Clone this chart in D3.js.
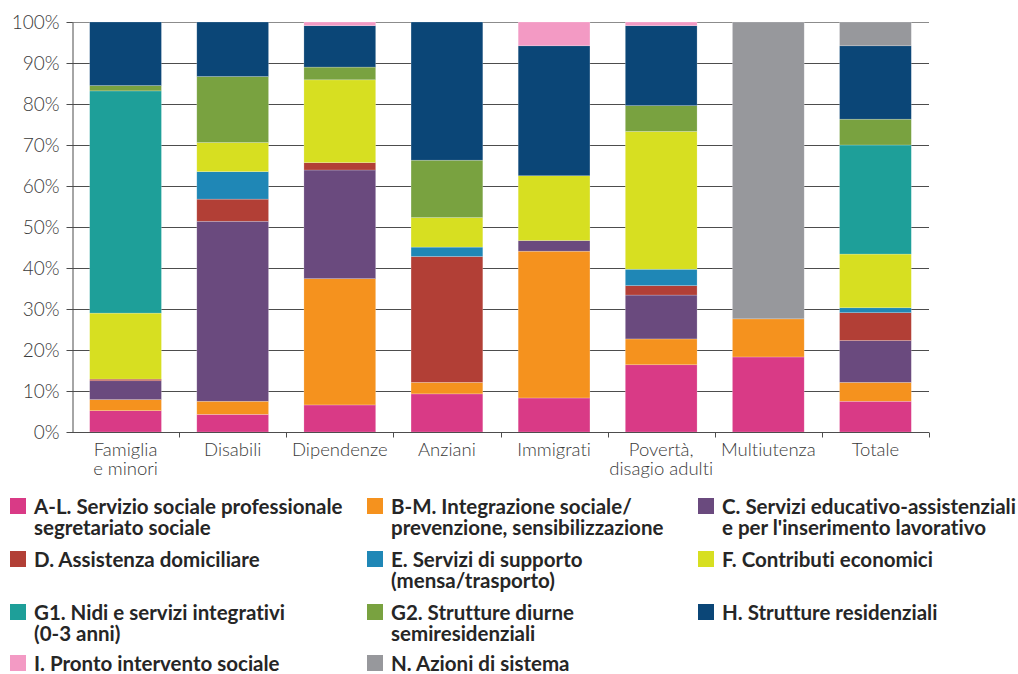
<!DOCTYPE html>
<html>
<head>
<meta charset="utf-8">
<script src="https://cdn.jsdelivr.net/npm/d3@7"></script>
<style>
  html, body { margin: 0; padding: 0; background: #fff; }
  svg { display: block; }
  text { font-variant-ligatures: none; font-feature-settings: "liga" 0; }
  .axis-label { font-family: Lato, "Open Sans", sans-serif; font-weight: 300; fill: #3a3a3a; }
  .legend-label { font-family: Lato, "Open Sans", sans-serif; font-weight: 700; fill: #262626; }
</style>
</head>
<body>
<svg id="chart" width="1018" height="674"></svg>
<script>
// Target user groups (x categories); multi-line labels split on "\n"
const categories = [
  "Famiglia\ne minori", "Disabili", "Dipendenze", "Anziani",
  "Immigrati", "Povertà,\ndisagio adulti", "Multiutenza", "Totale"
];

// Share of spending (%) per service area, one value per category
const serviceAL = [5.2, 4.3, 6.6, 9.3, 8.3, 16.4, 18.3, 7.5];
const serviceBM = [2.7, 3.2, 30.8, 2.8, 35.8, 6.3, 9.3, 4.6];
const serviceC  = [4.6, 43.9, 26.5, 0, 2.6, 10.7, 0, 10.2];
const serviceD  = [0.4, 5.4, 1.8, 30.7, 0, 2.3, 0, 6.8];
const serviceE  = [0, 6.7, 0, 2.3, 0, 4.0, 0, 1.2];
const serviceF  = [16.1, 7.1, 20.2, 7.2, 15.8, 33.6, 0, 13.1];
const serviceG1 = [54.2, 0, 0, 0, 0, 0, 0, 26.6];
const serviceG2 = [1.3, 16.1, 3.1, 14.0, 0, 6.3, 0, 6.3];
const serviceH  = [15.5, 13.3, 10.1, 33.7, 31.7, 19.5, 0, 17.9];
const serviceI  = [0, 0, 0.9, 0, 5.8, 0.9, 0, 0];
const serviceN  = [0, 0, 0, 0, 0, 0, 72.4, 5.8];

// Legend texts (lines) in stacking order
const seriesLabels = [
  ["A-L. Servizio sociale professionale", "segretariato sociale"],
  ["B-M. Integrazione sociale/", "prevenzione, sensibilizzazione"],
  ["C. Servizi educativo-assistenziali", "e per l'inserimento lavorativo"],
  ["D. Assistenza domiciliare"],
  ["E. Servizi di supporto", "(mensa/trasporto)"],
  ["F. Contributi economici"],
  ["G1. Nidi e servizi integrativi", "(0-3 anni)"],
  ["G2. Strutture diurne", "semiresidenziali"],
  ["H. Strutture residenziali"],
  ["I. Pronto intervento sociale"],
  ["N. Azioni di sistema"]
];

const seriesColors = [
  "#d93a86", "#f5921e", "#6a4a7e", "#b23f36", "#1f87b6", "#d7df21",
  "#1e9f99", "#79a240", "#0b4677", "#f39ac4", "#97989c"
];

const seriesValues = [
  serviceAL, serviceBM, serviceC, serviceD, serviceE, serviceF,
  serviceG1, serviceG2, serviceH, serviceI, serviceN
];
const yTicks = [0, 10, 20, 30, 40, 50, 60, 70, 80, 90, 100];

// Build table rows for d3.stack
const keys = seriesLabels.map((d, i) => "s" + i);
const rows = categories.map((c, ci) => {
  const r = { category: c };
  keys.forEach((k, si) => { r[k] = seriesValues[si][ci]; });
  return r;
});
const stacked = d3.stack().keys(keys)(rows);

const svg = d3.select("#chart");
const plot = { left: 72, right: 929, top: 22, bottom: 432 };

const x = d3.scaleBand()
  .domain(categories)
  .range([plot.left, plot.right])
  .paddingInner(0.33)
  .paddingOuter(0.165);

const y = d3.scaleLinear().domain([0, 100]).range([plot.bottom, plot.top]);

// Horizontal gridlines
svg.append("g")
  .selectAll("line")
  .data(yTicks.filter(t => t > 0))
  .join("line")
  .attr("x1", plot.left).attr("x2", plot.right)
  .attr("y1", d => y(d) + 0.5).attr("y2", d => y(d) + 0.5)
  .attr("stroke", d => d === 100 ? "#8c8c8c" : "#4d4d4d")
  .attr("stroke-width", 1);

// Stacked bars
svg.append("g")
  .selectAll("g")
  .data(stacked)
  .join("g")
  .attr("fill", (d, i) => seriesColors[i])
  .selectAll("rect")
  .data(d => d.filter(s => s[1] - s[0] > 0))
  .join("rect")
  .attr("x", d => x(d.data.category))
  .attr("width", x.bandwidth())
  .attr("y", d => y(d[1]))
  .attr("height", d => y(d[0]) - y(d[1]))
  .attr("stroke", "rgba(255,255,255,0.35)")
  .attr("stroke-width", 0.6);

// Y axis
const yAxis = svg.append("g")
  .attr("transform", `translate(${plot.left + 0.5},0)`)
  .call(d3.axisLeft(y).tickValues(yTicks).tickFormat(d => d + "%").tickSize(6).tickSizeOuter(0).tickPadding(7));
yAxis.select(".domain").attr("stroke", "#4d4d4d");
yAxis.selectAll(".tick line").attr("stroke", "#4d4d4d");
yAxis.selectAll(".tick text")
  .attr("class", "axis-label")
  .style("font-size", "19px")
  .attr("dy", "0.35em");

// X axis: ticks at category boundaries
const boundaries = categories.map(c => x(c) - x.step() * x.paddingInner() / 2).slice(1).concat([plot.right]);
const xAxisG = svg.append("g").attr("transform", `translate(0,${plot.bottom + 0.5})`);
xAxisG.append("line")
  .attr("x1", plot.left).attr("x2", plot.right)
  .attr("stroke", "#4d4d4d");
xAxisG.selectAll("line.tick")
  .data(boundaries)
  .join("line")
  .attr("class", "tick")
  .attr("x1", d => Math.round(d) + 0.5).attr("x2", d => Math.round(d) + 0.5)
  .attr("y1", 0).attr("y2", 5)
  .attr("stroke", "#4d4d4d");

const xLabels = xAxisG.selectAll("text")
  .data(categories)
  .join("text")
  .attr("class", "axis-label")
  .attr("text-anchor", "middle")
  .style("font-size", "18.5px")
  .attr("transform", d => `translate(${x(d) + x.bandwidth() / 2},23)`);
xLabels.selectAll("tspan")
  .data(d => d.split("\n"))
  .join("tspan")
  .attr("x", 0)
  .attr("y", (d, i) => i * 19)
  .text(d => d);

// Legend: 3 columns, row-wise order; rows positioned by text baseline
const legendCols = [10, 367, 698];
const legendRowBase = [514, 567, 620, 671];
const legend = svg.append("g")
  .selectAll("g")
  .data(seriesLabels)
  .join("g")
  .attr("transform", (d, i) => `translate(${legendCols[i % 3]},${legendRowBase[Math.floor(i / 3)]})`);
legend.append("rect")
  .attr("y", -16)
  .attr("width", 16).attr("height", 16)
  .attr("fill", (d, i) => seriesColors[i]);
legend.append("text")
  .attr("class", "legend-label")
  .style("font-size", "20.5px")
  .selectAll("tspan")
  .data(d => d)
  .join("tspan")
  .attr("x", 24)
  .attr("y", (d, i) => i * 20.5)
  .text(d => d);
</script>
</body>
</html>
